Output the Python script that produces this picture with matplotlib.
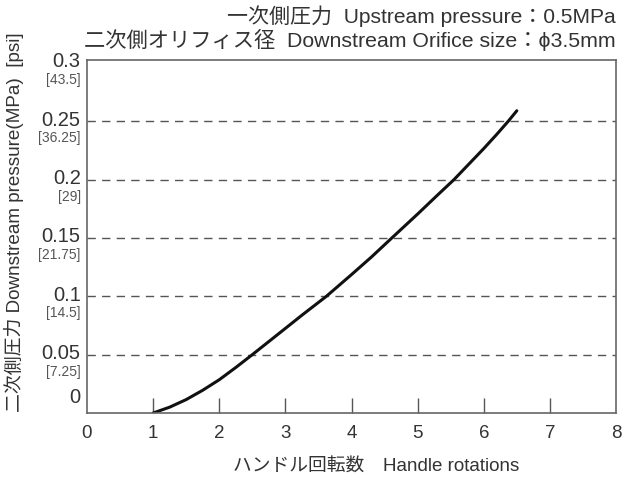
import matplotlib
matplotlib.use("Agg")
import matplotlib.pyplot as plt

plt.rcParams["font.family"] = ["Liberation Sans", "Noto Sans CJK JP", "DejaVu Sans"]

# handle rotations vs downstream pressure (MPa)
rotations = [1, 1.25, 1.5, 1.75, 2, 2.25, 2.5, 2.82, 3, 3.25, 3.62, 4, 4.3,
             4.61, 5, 5.3, 5.55, 6, 6.2, 6.37, 6.5]
pressure = [0, 0.005, 0.0115, 0.0195, 0.0285, 0.039, 0.05, 0.0644, 0.0725, 0.0838,
            0.1, 0.1186, 0.1336, 0.15, 0.1705, 0.1867, 0.2, 0.2266, 0.239, 0.25, 0.259]

mpa_ticks = [0.3, 0.25, 0.2, 0.15, 0.1, 0.05, 0]
mpa_labels = ["0.3", "0.25", "0.2", "0.15", "0.1", "0.05", "0"]
psi_labels = ["[43.5]", "[36.25]", "[29]", "[21.75]", "[14.5]", "[7.25]", ""]
x_ticks = [0, 1, 2, 3, 4, 5, 6, 7, 8]

fig = plt.figure(figsize=(6.30, 4.79), dpi=100)
ax = fig.add_axes([87 / 630, 1 - 413 / 479, 529 / 630, 353 / 479])

ax.plot(rotations, pressure, color="#111111", lw=2.2, solid_capstyle="round",
        solid_joinstyle="round")

for v in mpa_ticks[1:-1]:
    ax.axhline(v, color="#555555", lw=1.0, ls=(0, (6, 4.5)), zorder=0)

ax.set_xlim(0, 8)
ax.set_ylim(0, 0.3025)

for s in ax.spines.values():
    s.set_color("#666666")
    s.set_linewidth(1.2)

ax.set_xticks(x_ticks)
ax.set_xticklabels([str(t) for t in x_ticks], fontsize=13.5, color="#333333")
ax.tick_params(axis="x", direction="in", length=11, width=1.0, color="#555555", pad=9)
ax.set_yticks([])

# no tick marks on the corners
for tl in ax.xaxis.get_major_ticks():
    if tl.get_loc() in (0, 8):
        tl.tick1line.set_visible(False)

trans = ax.get_yaxis_transform()
for v, lab, psi in zip(mpa_ticks, mpa_labels, psi_labels):
    yoff = 0.013 if v == 0 else 0.001
    ax.text(-0.012, v + yoff, lab, transform=trans, ha="right", va="center",
            fontsize=14.5, color="#333333")
    if psi:
        ax.text(-0.012, v - 0.0145, psi, transform=trans, ha="right", va="center",
                fontsize=10, color="#555555")

fig.text(14 / 630, 1 - 222 / 479, "二次側圧力 Downstream pressure(MPa)  [psi]",
         rotation=90, ha="center", va="center", fontsize=13.6, color="#333333")
fig.text(376 / 630, 1 - 467 / 479, "ハンドル回転数　Handle rotations",
         ha="center", va="center", fontsize=13.5, color="#333333")

fig.text(616 / 630, 1 - 16 / 479, "一次側圧力  Upstream pressure：0.5MPa",
         ha="right", va="center", fontsize=15.1, color="#333333")
fig.text(616 / 630, 1 - 40 / 479, "二次側オリフィス径  Downstream Orifice size：ϕ3.5mm",
         ha="right", va="center", fontsize=15.3, color="#333333")

fig.savefig("out.png", dpi=100)
